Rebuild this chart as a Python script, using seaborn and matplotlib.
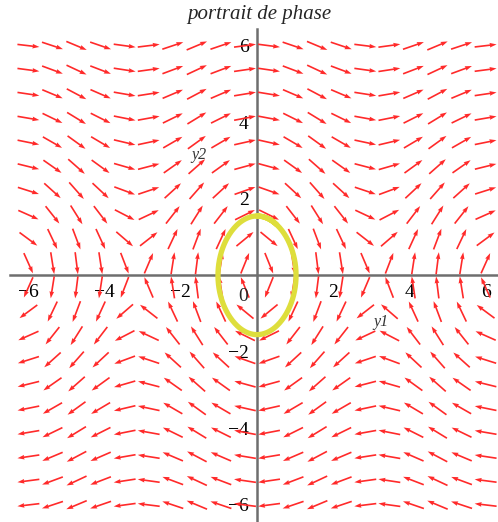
import numpy as np
import pandas as pd
import matplotlib
matplotlib.use("Agg")
import matplotlib.pyplot as plt
import seaborn as sns

# ---- chart content ----
title = "portrait de phase"
x_label = "y1"
y_label = "y2"
k = 2.5                       # pendulum system: y1' = y2, y2' = -k sin(y1)
grid_y1 = np.linspace(-6, 6, 20)
grid_y2 = np.linspace(-6, 6, 20)
orbit_start = [0.0, 1.55]     # initial condition of the drawn trajectory
x_ticks = [-6, -4, -2, 2, 4, 6]
y_ticks = [-6, -4, -2, 2, 4, 6]
x_minor = [-5, -3, -1, 1, 3, 5]
y_minor = [-5, -3, -1, 1, 3, 5]

sns.set_style("white")
plt.rcParams["font.family"] = ["Liberation Serif", "DejaVu Serif"]


def field(y1, y2):
    return y2, -k * np.sin(y1)


# trajectory via RK4
def rk4(p0, dt=0.01, n=460):
    pts = [p0]
    p = np.array(p0, dtype=float)
    f = lambda q: np.array(field(q[0], q[1]))
    for _ in range(n):
        k1 = f(p)
        k2 = f(p + dt / 2 * k1)
        k3 = f(p + dt / 2 * k2)
        k4 = f(p + dt * k3)
        p = p + dt / 6 * (k1 + 2 * k2 + 2 * k3 + k4)
        pts.append(p.copy())
    return np.array(pts)


traj = rk4(orbit_start)
df = pd.DataFrame({"y1": traj[:, 0], "y2": traj[:, 1]})

fig = plt.figure(figsize=(4.98, 5.22), dpi=100)
ax = fig.add_axes([10 / 498, 0, 488 / 498, 493 / 522])

Y1, Y2 = np.meshgrid(grid_y1, grid_y2)
U, V = field(Y1, Y2)
N = np.hypot(U, V)
N[N == 0] = 1
L = 0.58
ax.quiver(Y1, Y2, U / N, V / N, pivot="middle", angles="xy", scale_units="xy",
          scale=1 / L, color="#ff2a2a", width=0.0034, headwidth=2.8,
          headlength=4.2, headaxislength=3.9, minlength=0, zorder=2)

sns.lineplot(data=df, x="y1", y="y2", sort=False, estimator=None,
             color="#DEDE3C", linewidth=3.8, ax=ax, zorder=3)

ax.set_xlim(-6.483, 6.325)
ax.set_ylim(-6.446, 6.436)
ax.set_xlabel("")
ax.set_ylabel("")

for s in ["top", "right"]:
    ax.spines[s].set_visible(False)
ax.spines["left"].set_position(("data", 0))
ax.spines["bottom"].set_position(("data", 0))
for s in ["left", "bottom"]:
    ax.spines[s].set_color("#6e6e6e")
    ax.spines[s].set_linewidth(1.8)
    ax.spines[s].set_zorder(1)

ax.set_xticks(x_ticks)
ax.set_yticks(y_ticks)
ax.set_xticks(x_minor, minor=True)
ax.set_yticks(y_minor, minor=True)
ax.tick_params(which="major", direction="out", length=4, width=1.2,
               color="#6e6e6e", labelsize=14, pad=2, labelcolor="black")
ax.tick_params(which="minor", direction="inout", length=4, width=1.2,
               color="#6e6e6e")

ax.text(-0.37, -0.55, "0", fontsize=14, ha="center", va="center")
ax.text(3.25, -1.23, x_label, style="italic", fontsize=11.5, ha="center",
        va="center", color="#333333")
ax.text(-1.52, 3.14, y_label, style="italic", fontsize=11.5, ha="center",
        va="center", color="#333333")

fig.text(259.5 / 498, 1 - 15 / 522, title, ha="center", va="center",
         style="italic", fontsize=15)

fig.savefig("out.png", dpi=100)
